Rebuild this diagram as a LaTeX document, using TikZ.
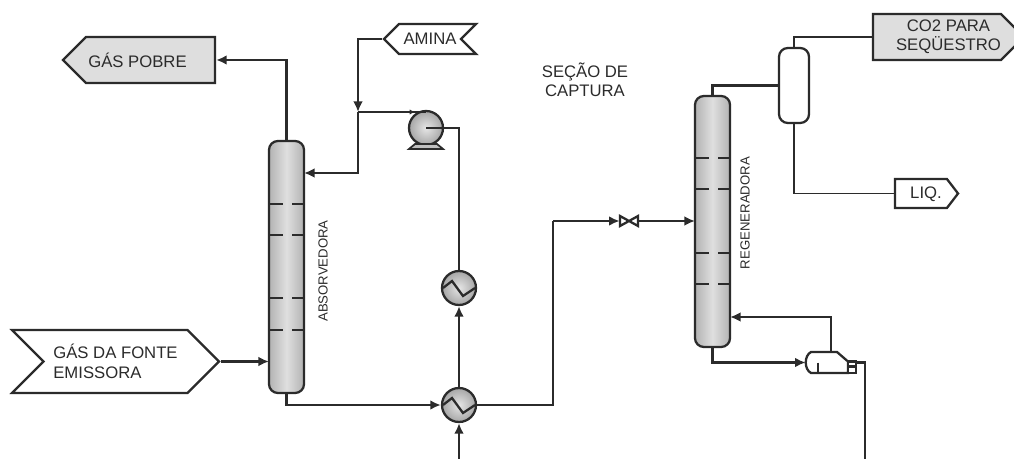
\documentclass[tikz,border=0pt]{standalone}
\usepackage{fontspec}
\setmainfont{Liberation Sans}
\usetikzlibrary{arrows.meta,shapes.symbols}
\definecolor{ink}{HTML}{2B2B2B}
\definecolor{tag}{HTML}{DEDEDE}
\tikzset{pipe/.style={draw=ink,line width=1.3pt}}
\tikzset{flow/.style={pipe,-{Latex[length=6pt,width=5.5pt]}}}
\tikzset{t/.style={text=ink,font=\fontsize{9.5}{11}\selectfont,align=center,inner sep=0pt}}
\tikzset{ts/.style={t,font=\fontsize{7.5}{9}\selectfont,rotate=90}}
\tikzset{sig/.style={t,signal,draw=ink,line width=1.3pt,inner sep=0pt,signal pointer angle=90}}
\tikzset{col/.style={rectangle,draw=ink,line width=1.3pt,rounded corners=5pt,minimum width=.7cm,left color=gray!60,right color=gray!60,middle color=gray!25}}
\tikzset{hx/.style={circle,draw=ink,line width=1.3pt,minimum size=.68cm,inner sep=0pt,inner color=gray!20,outer color=gray!70}}

\begin{document}
\begin{tikzpicture}[x=.02cm,y=-.02cm]
      \useasboundingbox (0,0) rectangle (1014,459);
      % streams
      \node[sig,fill=tag,signal to=west,minimum width=3.04cm,minimum height=.92cm] (pobre) at (150.5,60) {};
      \node[sig,fill=white,signal from=east,signal to=west,minimum width=1.84cm,minimum height=.6cm] (amina) at (430,39) {AMINA};
      \node[sig,fill=white,signal from=west,signal to=east,minimum width=4.14cm,minimum height=1.26cm,align=left] (fonte) at (115.5,361.5) {GÁS DA FONTE\\EMISSORA};
      \node[sig,fill=tag,signal to=east,minimum width=3.02cm,minimum height=.92cm] (co2) at (937,37) {};
      \node[sig,fill=white,signal to=east,signal pointer angle=105,minimum width=1.26cm,minimum height=.58cm] (liq) at (921,193.5) {};
      \node[t] (tpobre) at (137.5,60) {GÁS POBRE};
      \node[t] (tco2) at (948.5,37) {CO2 PARA\\SEQÜESTRO};
      \node[t] (tliq) at (926,194) {LIQ.};
      \node[t] (secao) at (585,79.5) {SEÇÃO DE\\CAPTURA};
      % columns
      \node[col,minimum height=5.04cm] (abs) at (286.5,267) {};
      \node[col,minimum height=5.02cm] (reg) at (712.5,221.5) {};
      \node[col,left color=white,right color=white,middle color=white,minimum width=.6cm,minimum height=1.5cm] (sep) at (794,85.5) {};
      \foreach \y in {204,235,298,330} {
        \draw[pipe] (269,\y) -- (283,\y);
        \draw[pipe] (292,\y) -- (304,\y);
      }
      \foreach \y in {158,189,253,284} {
        \draw[pipe] (695,\y) -- (709,\y);
        \draw[pipe] (718,\y) -- (730,\y);
      }
      \node[ts] (labs) at (323,271) {ABSORVEDORA};
      \node[ts] (lreg) at (745,213) {REGENERADORA};
      % pump, exchangers, valve, reboiler
      \node[hx] (pmp) at (426,128) {};
      \draw[pipe,line width=1pt,fill=gray!50,shift={(pmp.center)}] (-11,16) -- (-17,21) -- (17,21) -- (11,16) -- cycle;
      \node[hx] (hxa) at (459,405) {};
      \node[hx] (hxb) at (459,288) {};
      \foreach \e in {hxa,hxb}
        \draw[pipe,shift={(\e.center)}] (-16,0) -- (-7,-7) -- (4,8) -- (16,0);
      \node[minimum width=.36cm,minimum height=.2cm,inner sep=0pt] (vlv) at (629,221) {};
      \draw[pipe,shift={(vlv.center)}] (-9,-5) -- (9,5) -- (9,-5) -- (-9,5) -- cycle;
      \node[minimum width=1cm,minimum height=.42cm,inner sep=0pt] (reb) at (831,362.5) {};
      \draw[pipe,fill=white,shift={(reb.center)}] (-20,-10.5) -- (6,-10.5) -- (17,-1) -- (17,10.5) -- (-20,10.5) .. controls (-27,7) and (-27,-7) .. (-20,-10.5) -- cycle;
      \draw[pipe,fill=white,shift={(reb.center)}] (17,-1) rectangle (25,10.5);
      \draw[pipe,shift={(reb.center)}] (17,4) -- (25,4);
      \draw[pipe,shift={(reb.center)}] (-13,0) -- (-13,10.5);
      % junctions and free ends
      \coordinate (tee) at (358,112);
      \coordinate (absin) at (304,173);
      \coordinate (absgas) at (269,361.5);
      \coordinate (pmpin) at (415,112);
      \coordinate (pmptop) at (426,112);
      \coordinate (bend) at (553,221);
      \coordinate (regin) at (695,221);
      \coordinate (regret) at (730,317);
      \coordinate (lean) at (459,459);
      \coordinate (steam) at (865,459);
      % lines
      \draw[flow] (abs.north) |- (pobre.east);
      \draw[flow] (amina.west) -| (tee);
      \draw[flow] (tee) |- (absin);
      \draw[pipe] (tee) -- (pmptop);
      \draw[pipe,-{Latex[length=3pt,width=3pt]}] (tee) -- (pmpin);
      \draw[pipe] (hxb.north) |- (pmp.center);
      \draw[flow] (hxa.north) -- (hxb.south);
      \draw[flow] (lean) -- (hxa.south);
      \draw[flow] (abs.south) |- (hxa.west);
      \draw[flow] (fonte.east) -- (absgas);
      \draw[pipe] (hxa.east) -| (bend);
      \draw[flow] (bend) -- (vlv.west);
      \draw[flow] (vlv.east) -- (regin);
      \draw[pipe] (reg.north) |- (sep.west);
      \draw[pipe,line width=1pt] (sep.north) |- (co2.west);
      \draw[pipe,line width=1pt] (sep.south) |- (liq.west);
      \draw[flow] (reg.south) |- (reb.west);
      \draw[flow] (reb.north) |- (regret);
      \draw[pipe] (reb.east) -| (steam);
    \end{tikzpicture}
\end{document}
